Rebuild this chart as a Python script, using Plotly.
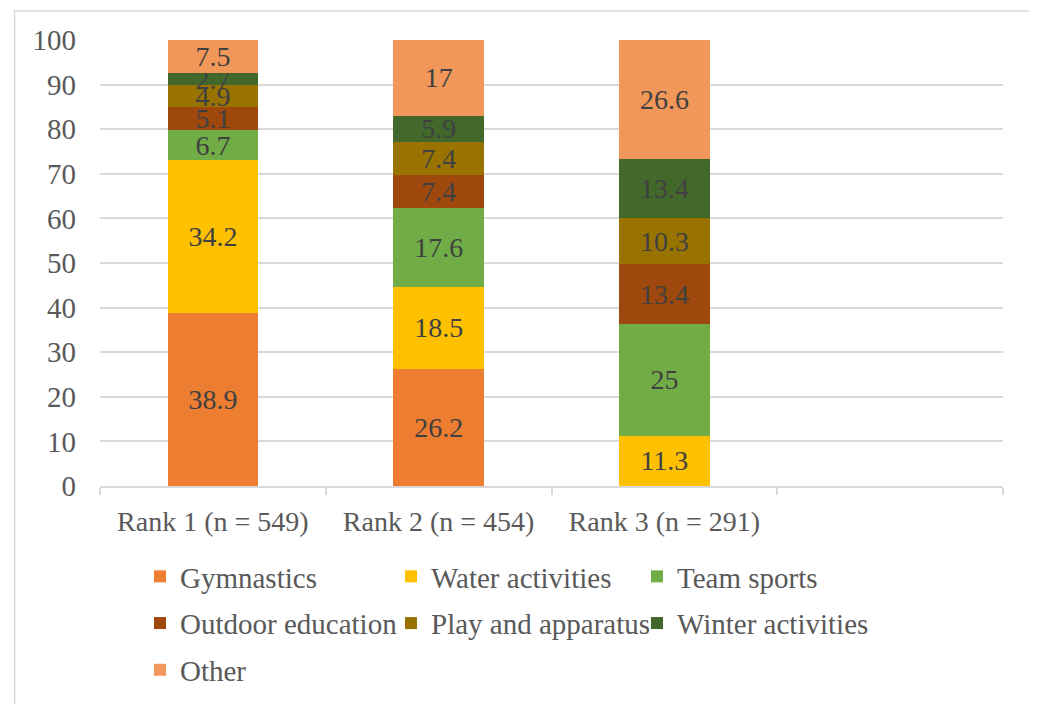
import plotly.graph_objects as go

categories = ["Rank 1 (n = 549)", "Rank 2 (n = 454)", "Rank 3 (n = 291)", " "]
series_names = ["Gymnastics", "Water activities", "Team sports", "Outdoor education",
                "Play and apparatus", "Winter activities", "Other"]
gymnastics = [38.9, 26.2, 0, None]
water_activities = [34.2, 18.5, 11.3, None]
team_sports = [6.7, 17.6, 25, None]
outdoor_education = [5.1, 7.4, 13.4, None]
play_and_apparatus = [4.9, 7.4, 10.3, None]
winter_activities = [2.7, 5.9, 13.4, None]
other = [7.5, 17, 26.6, None]
y_ticks = [0, 10, 20, 30, 40, 50, 60, 70, 80, 90, 100]

series_values = [gymnastics, water_activities, team_sports, outdoor_education,
                 play_and_apparatus, winter_activities, other]
colors = ["#ED7D31", "#FFC000", "#70AD47", "#9E480E", "#997300", "#43682B", "#F1975A"]
legend_ids = ["legend", "legend2", "legend3", "legend", "legend2", "legend3", "legend"]

FONT = "Liberation Serif"
fig = go.Figure()
for name, vals, col, lg in zip(series_names, series_values, colors, legend_ids):
    txt = [("%g" % v) if v else "" for v in vals]
    fig.add_trace(go.Bar(
        x=categories, y=vals, name=name, marker_color=col,
        marker_line_width=0,
        text=txt, textposition="inside", insidetextanchor="middle",
        textangle=0, constraintext="none",
        textfont=dict(family=FONT, size=28, color="#404040"),
        legend=lg, legendgroup=name, hoverinfo="skip"))

# page body has an 8px margin; figure coordinates are target pixels minus OFF
OFF = 8
W, H = 1037 - OFF, 704 - OFF
pl, pr, pt, pb = 99.5 - OFF, 1003.5 - OFF, 39.5 - OFF, 486.5 - OFF
fig.update_layout(
    width=W, height=H, barmode="stack", bargap=0.6,
    plot_bgcolor="white", paper_bgcolor="white",
    margin=dict(l=pl, r=W - pr, t=pt, b=H - pb, autoexpand=False),
    font=dict(family=FONT, size=28, color="#595959"),
    uniformtext=dict(minsize=28, mode="show"),
    showlegend=True,
)
leg_common = dict(xref="container", yref="container", xanchor="left", yanchor="top",
                  orientation="v", tracegroupgap=6, traceorder="grouped",
                  font=dict(family=FONT, size=29, color="#595959"),
                  bgcolor="rgba(0,0,0,0)", borderwidth=0)
ytop = 1 - 543 / H
fig.update_layout(
    legend=dict(x=132 / W, y=ytop, **leg_common),
    legend2=dict(x=383 / W, y=ytop, **leg_common),
    legend3=dict(x=629 / W, y=ytop, **leg_common),
)
fig.update_yaxes(range=[0, 100], tickvals=y_ticks, showgrid=True, gridcolor="#D9D9D9",
                 gridwidth=1.5, zeroline=False, showline=False, ticks="",
                 ticklabelstandoff=23, tickfont=dict(family=FONT, size=29, color="#595959"))
fig.update_xaxes(showline=True, linecolor="#D9D9D9", linewidth=1.5,
                 ticks="outside", tickson="boundaries", ticklen=7, tickcolor="#D9D9D9",
                 tickwidth=1.5, ticklabelstandoff=10,
                 tickfont=dict(family=FONT, size=28, color="#595959"))
# chart border
fig.add_shape(type="rect", xref="paper", yref="paper",
              x0=(14 - OFF - pl) / (pr - pl), x1=(1032 - OFF - pl) / (pr - pl),
              y0=(pb - 720) / (pb - pt), y1=(pb - (10.5 - OFF)) / (pb - pt),
              line=dict(color="#D9D9D9", width=1.5), fillcolor="rgba(0,0,0,0)", layer="below")

fig.write_html("out.html")
